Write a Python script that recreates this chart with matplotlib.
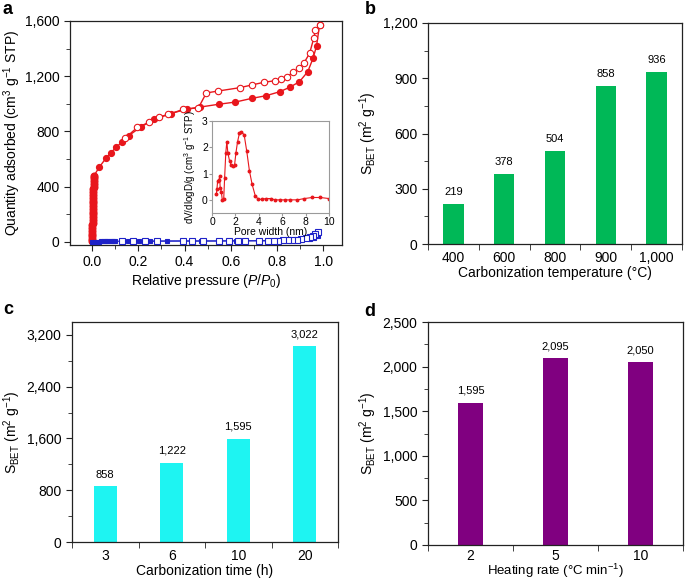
import matplotlib
matplotlib.use("Agg")
import matplotlib.pyplot as plt
from matplotlib.ticker import MultipleLocator, FuncFormatter, FixedLocator

plt.rcParams["font.family"] = ["Liberation Sans", "DejaVu Sans"]
plt.rcParams["mathtext.fontset"] = "custom"
plt.rcParams["mathtext.rm"] = "Liberation Sans"
plt.rcParams["mathtext.it"] = "Liberation Sans:italic"
plt.rcParams["mathtext.bf"] = "Liberation Sans:bold"

# panel a: N2 isotherms
band_x = [0.0, 0.0005, 0.001, 0.001, 0.0015, 0.002, 0.002, 0.0025, 0.003, 0.003, 0.0035, 0.004,
          0.004, 0.0045, 0.005, 0.005, 0.0055, 0.006, 0.006, 0.0065, 0.007, 0.007, 0.0075, 0.008, 0.008]
band_y = [5, 20, 40, 60, 80, 100, 120, 140, 160, 180, 200, 220, 240, 260, 280, 300, 320, 340,
          360, 380, 400, 420, 440, 460, 478]
ads_x = [0.032, 0.061, 0.082, 0.104, 0.131, 0.159, 0.21, 0.27, 0.34, 0.41, 0.468, 0.547, 0.619,
         0.691, 0.752, 0.811, 0.854, 0.896, 0.932, 0.955, 0.97, 0.983]
ads_y = [543, 608, 647, 685, 726, 770, 832, 888, 930, 962, 977, 997, 1013, 1040, 1059, 1088, 1120,
         1160, 1233, 1330, 1419, 1571]
des_x = [0.983, 0.965, 0.958, 0.94, 0.915, 0.895, 0.869, 0.843, 0.818, 0.792, 0.742, 0.691, 0.638,
         0.545, 0.494, 0.46, 0.395, 0.33, 0.291, 0.247, 0.196, 0.144]
des_y = [1571, 1535, 1475, 1366, 1294, 1258, 1228, 1197, 1180, 1168, 1156, 1137, 1117, 1093, 1079,
         972, 960, 924, 905, 866, 830, 753]
blue_ads_x = [0.002, 0.01, 0.02, 0.03, 0.04, 0.05, 0.06, 0.07, 0.08, 0.09, 0.10, 0.156, 0.203,
              0.25, 0.323, 0.47, 0.62, 0.76, 0.90, 0.94, 0.96, 0.975]
blue_ads_y = [2, 3, 3, 3, 4, 4, 4, 5, 5, 5, 5, 6, 6, 6, 7, 7, 8, 9, 12, 18, 28, 40]
blue_des_x = [0.975, 0.965, 0.955, 0.94, 0.925, 0.905, 0.885, 0.865, 0.845, 0.825, 0.805, 0.785,
              0.76, 0.72, 0.66, 0.63, 0.59, 0.55, 0.48, 0.43, 0.395, 0.28, 0.23, 0.178, 0.128]
blue_des_y = [72, 58, 45, 35, 26, 20, 16, 14, 12, 11, 10, 10, 9, 9, 8, 8, 8, 7, 7, 7, 7, 6, 6, 6, 5]

# inset: pore size distribution
psd_x = [0.37, 0.42, 0.48, 0.6, 0.65, 0.7, 0.8, 0.88, 1.0, 1.08, 1.18, 1.27, 1.35, 1.5, 1.65, 1.8,
         1.93, 2.04, 2.18, 2.35, 2.5, 2.75, 2.97, 3.2, 3.43, 3.7, 3.96, 4.25, 4.6, 5.0, 5.4, 5.8,
         6.2, 6.65, 7.3, 7.9, 8.55, 9.25, 10.0]
psd_y = [0.21, 0.4, 0.71, 0.75, 0.9, 0.47, 0.3, 0.0, 0.02, 0.85, 1.8, 2.22, 1.8, 1.48, 1.33, 1.27,
         1.33, 1.77, 2.2, 2.55, 2.6, 2.47, 1.85, 1.1, 0.59, 0.15, 0.02, 0.02, 0.05, 0.05, 0.0, 0.0,
         0.0, 0.0, 0.0, 0.05, 0.09, 0.09, 0.05]

# panels b-d
temp_labels = ["400", "600", "800", "900", "1,000"]
temp_vals = [219, 378, 504, 858, 936]
time_labels = ["3", "6", "10", "20"]
time_vals = [858, 1222, 1595, 3022]
rate_labels = ["2", "5", "10"]
rate_vals = [1595, 2095, 2050]

red = "#e8161c"
blue = "#1e22c8"
green = "#00b857"
cyan = "#1ef4f2"
purple = "#800080"

comma = FuncFormatter(lambda v, p: f"{v:,.0f}")

fig = plt.figure(figsize=(6.85, 5.82), dpi=100)


def style_axes(ax):
    for s in ax.spines.values():
        s.set_color("#222222")
        s.set_linewidth(0.9)
    ax.tick_params(which="both", direction="out", labelsize=10, color="#222222")
    ax.tick_params(which="major", length=4)
    ax.tick_params(which="minor", length=3)
    ax.tick_params(top=False, right=False)


# ---- a ----
ax = fig.add_axes([70 / 685, 1 - 245 / 582, 272 / 685, 224 / 582])
style_axes(ax)
ax.plot(blue_ads_x, blue_ads_y, "-s", color=blue, ms=3.2, lw=0.8, mfc=blue, mec=blue, mew=0.8, zorder=3)
ax.plot(blue_des_x, blue_des_y, "-s", color=blue, ms=4.0, lw=0.8, mfc="white", mec=blue, mew=0.8, zorder=3)
ax.plot(band_x, band_y, "o", color=red, ms=4.8, mec=red, zorder=2)
ax.plot(band_x[-1:] + ads_x, band_y[-1:] + ads_y, "-o", color=red, ms=4.2, lw=1.0, mec=red, zorder=4)
ax.plot(des_x, des_y, "-o", color=red, ms=4.6, lw=1.0, mfc="white", mec=red, mew=0.8, zorder=4)
ax.set_xlim(-0.095, 1.08)
ax.set_ylim(-22, 1600)
ax.xaxis.set_major_locator(MultipleLocator(0.2))
ax.xaxis.set_minor_locator(MultipleLocator(0.1))
ax.yaxis.set_major_locator(MultipleLocator(400))
ax.yaxis.set_minor_locator(MultipleLocator(200))
ax.yaxis.set_major_formatter(comma)
ax.set_xlabel("Relative pressure ($P$/$P_0$)", fontsize=10, labelpad=2)
ax.set_ylabel("Quantity adsorbed (cm$^3$ g$^{-1}$ STP)", fontsize=10, labelpad=1)

ins = fig.add_axes([212 / 685, 1 - 213 / 582, 117 / 685, 92 / 582])
for s in ins.spines.values():
    s.set_color("#9a9a9a")
    s.set_linewidth(0.8)
ins.plot(psd_x, psd_y, "-o", color=red, ms=1.8, lw=0.8)
ins.set_xlim(0, 10)
ins.set_ylim(-0.5, 3)
ins.set_xticks([0, 2, 4, 6, 8, 10])
ins.set_yticks([0, 1, 2, 3])
ins.tick_params(labelsize=7.5, length=2, pad=1, color="#9a9a9a")
ins.set_xlabel("Pore width (nm)", fontsize=7.5, labelpad=0)
ins.set_ylabel("dV/dlogD/g (cm$^3$ g$^{-1}$ STP)", fontsize=7.0, labelpad=2.5)


def bar_panel(rect, labels, vals, color, width, ymax, major, label_fmt):
    bx = fig.add_axes(rect)
    style_axes(bx)
    pos = list(range(len(vals)))
    bx.bar(pos, vals, width=width, color=color)
    for p, v in zip(pos, vals):
        bx.annotate(label_fmt(v), (p, v), xytext=(0, 5), textcoords="offset points",
                    ha="center", va="bottom", fontsize=8)
    bx.set_xlim(-0.5, len(vals) - 0.5)
    bx.set_ylim(0, ymax)
    bx.set_xticks(pos)
    bx.set_xticklabels(labels)
    bx.xaxis.set_minor_locator(FixedLocator([p - 0.5 for p in range(len(vals) + 1)]))
    bx.tick_params(axis="x", which="major", length=0, pad=5)
    bx.tick_params(axis="x", which="minor", length=4)
    bx.yaxis.set_major_locator(MultipleLocator(major))
    bx.yaxis.set_minor_locator(MultipleLocator(major / 2))
    bx.yaxis.set_major_formatter(comma)
    bx.set_ylabel("S$_{\\mathrm{BET}}$ (m$^2$ g$^{-1}$)", fontsize=10, labelpad=3)
    return bx


fmt = lambda v: f"{v:,.0f}"

bb = bar_panel([428 / 685, 1 - 244 / 582, 254 / 685, 221 / 582], temp_labels, temp_vals, green,
               0.4, 1200, 300, fmt)
bb.set_xlabel("Carbonization temperature (°C)", fontsize=10, labelpad=1)

bc = bar_panel([72 / 685, 1 - 542 / 582, 266 / 685, 220 / 582], time_labels, time_vals, cyan,
               0.35, 3400, 800, fmt)
bc.set_xlabel("Carbonization time (h)", fontsize=10, labelpad=1)

bd = bar_panel([428 / 685, 1 - 545 / 582, 255 / 685, 223 / 582], rate_labels, rate_vals, purple,
               0.3, 2500, 500, fmt)
bd.tick_params(axis="x", which="major", pad=3)
bd.set_xlabel("Heating rate (°C min$^{-1}$)", fontsize=9.5, labelpad=-1)

for letter, x, y in [("a", 8, 10), ("b", 370, 10), ("c", 8, 310), ("d", 370, 311)]:
    fig.text(x / 685, 1 - y / 582, letter, fontsize=13, fontweight="bold", ha="center", va="center")

fig.savefig("out.png", dpi=100)
